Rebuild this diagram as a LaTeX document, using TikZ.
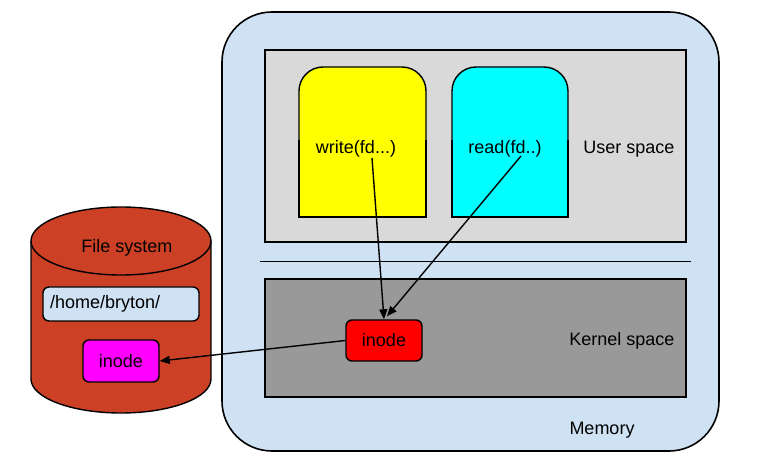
\documentclass[tikz,border=0pt]{standalone}
\usepackage{fontspec}
\setmainfont{Liberation Sans}
\usetikzlibrary{arrows.meta,calc}
\definecolor{memblue}{HTML}{CFE2F3}
\definecolor{usergray}{HTML}{D9D9D9}
\definecolor{kerngray}{HTML}{999999}
\definecolor{fsred}{HTML}{CC4125}
\definecolor{wyellow}{HTML}{FFFF00}
\definecolor{rcyan}{HTML}{00FFFF}
\definecolor{imagenta}{HTML}{FF00FF}
\definecolor{kred}{HTML}{FF0000}
\begin{document}
\begin{tikzpicture}[x=1pt,y=-1pt,
  font=\fontsize{18}{21}\selectfont,
  line width=1.4pt,
  arr/.style={-{Triangle[length=10pt,width=8pt]}, line width=1.4pt},
  smallbox/.style={draw, rounded corners=6pt, minimum width=76pt, minimum height=41pt, inner sep=0pt},
  label/.style={inner sep=2pt}]
\useasboundingbox (0,0) rectangle (764,457);
% memory
\filldraw[fill=memblue, line width=1.6pt, rounded corners=50pt] (222,12) rectangle (719,451);
\node[label] (memlbl) at (602,430) {Memory};
% user space
\filldraw[fill=usergray] (265,50) rectangle (686,242);
\node[label] (userlbl) at (629,149) {User space};
% separator
\draw (260,261.5) -- (691,261.5);
% kernel space
\filldraw[fill=kerngray] (265,279) rectangle (686,397);
\node[label] (kernlbl) at (622,341) {Kernel space};
% write box
\filldraw[fill=wyellow, rounded corners=24pt] (299,67) rectangle (426,217);
\fill[wyellow] (299,140) rectangle (426,217);
\draw (299,140) -- (299,217) -- (426,217) -- (426,140);
\node[label] (wtext) at (356,149) {write(fd...)};
% read box
\filldraw[fill=rcyan, rounded corners=24pt] (452,67) rectangle (568,217);
\fill[rcyan] (452,140) rectangle (568,217);
\draw (452,140) -- (452,217) -- (568,217) -- (568,140);
\node[label] (rtext) at (505,149) {read(fd..)};
% kernel inode
\node[smallbox, fill=kred] (kinode) at (384,340.5) {inode};
% file system cylinder
\fill[fsred] (31,241) rectangle (211,379);
\fill[fsred] (121,379) ellipse [x radius=90, y radius=34];
\draw (31,241) -- (31,379) arc[start angle=180, end angle=0, x radius=90, y radius=34] -- (211,241);
\filldraw[fill=fsred] (121,241) ellipse [x radius=90, y radius=34];
\node[label] (fslbl) at (127,248) {File system};
\node[draw, fill=memblue, rounded corners=6pt, minimum width=156pt, minimum height=34pt, inner sep=0pt, text width=142pt, align=left] (home) at (121,304) {/home/bryton/};
\node[smallbox, fill=imagenta, minimum height=42pt] (finode) at (121,361) {inode};
% connectors
\draw[arr] ($(wtext.center)+(16,9)$) -- (kinode.north);
\draw[arr] ($(rtext.center)+(16,7)$) -- ($(kinode.north)+(3,-3)$);
\draw[arr] (kinode.west) -- (finode.east);
\end{tikzpicture}
\end{document}
